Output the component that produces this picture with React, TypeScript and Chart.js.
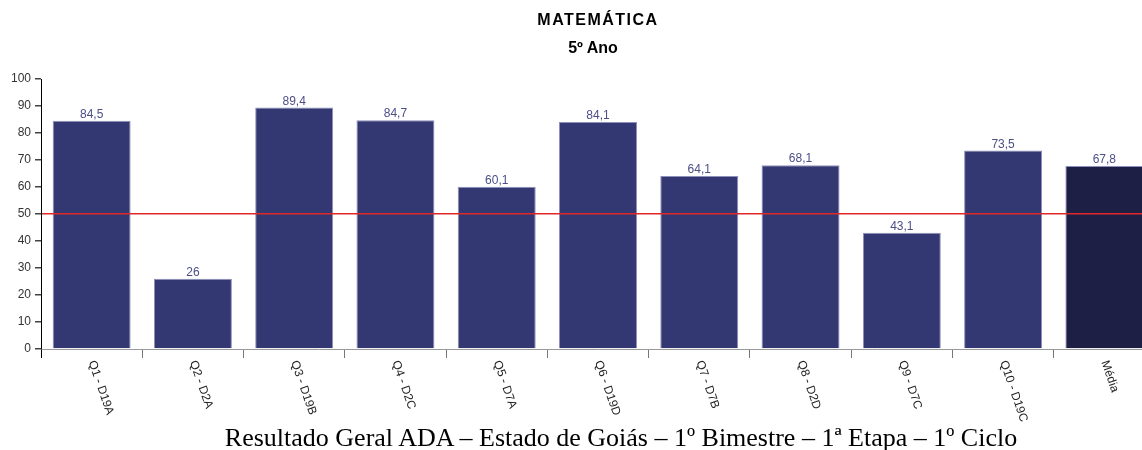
import React, { useEffect, useRef } from "react";
import { Chart, registerables } from "chart.js";

Chart.register(...registerables);

const categories = [
  "Q1 - D19A", "Q2 - D2A", "Q3 - D19B", "Q4 - D2C", "Q5 - D7A", "Q6 - D19D",
  "Q7 - D7B", "Q8 - D2D", "Q9 - D7C", "Q10 - D19C", "Média",
];
const values = [84.5, 26, 89.4, 84.7, 60.1, 84.1, 64.1, 68.1, 43.1, 73.5, 67.8];
const barColors = [
  "#333873", "#333873", "#333873", "#333873", "#333873", "#333873",
  "#333873", "#333873", "#333873", "#333873", "#1e1f45",
];
const yTicks = [0, 10, 20, 30, 40, 50, 60, 70, 80, 90, 100];
const referenceValue = 50;
const titleLine1 = "MATEMÁTICA";
const titleLine2 = "5º Ano";
const caption = "Resultado Geral ADA – Estado de Goiás – 1º Bimestre – 1ª Etapa – 1º Ciclo";

const fmt = (v: number) => String(v).replace(".", ",");

const valueLabelPlugin = {
  id: "valueLabels",
  afterDatasetsDraw(chart: any) {
    const ctx = chart.ctx;
    const meta = chart.getDatasetMeta(0);
    ctx.save();
    ctx.font = "12px Arial, 'Liberation Sans', sans-serif";
    ctx.fillStyle = "#4b4f86";
    ctx.textAlign = "center";
    ctx.textBaseline = "alphabetic";
    meta.data.forEach((bar: any, i: number) => {
      ctx.fillText(fmt(values[i]), bar.x, bar.y - 3);
    });
    ctx.restore();
  },
};

const xLabelPlugin = {
  id: "xLabels",
  afterDraw(chart: any) {
    const ctx = chart.ctx;
    const xs = chart.scales.x;
    ctx.save();
    ctx.font = "12px Arial, 'Liberation Sans', sans-serif";
    ctx.fillStyle = "#222";
    ctx.textAlign = "left";
    ctx.textBaseline = "middle";
    categories.forEach((c, i) => {
      const x = xs.getPixelForValue(i);
      const y = xs.top + 12;
      ctx.save();
      ctx.translate(x, y);
      ctx.rotate((71 * Math.PI) / 180);
      ctx.fillText(c, 0, 0);
      ctx.restore();
    });
    ctx.restore();
  },
};

export default function App() {
  const ref = useRef<HTMLCanvasElement | null>(null);
  useEffect(() => {
    if (!ref.current) return;
    const chart = new Chart(ref.current, {
      type: "bar",
      data: {
        labels: categories,
        datasets: [
          {
            data: values,
            backgroundColor: barColors,
            borderColor: "#8e90bb",
            borderWidth: 1,
            categoryPercentage: 0.77,
            barPercentage: 1,
          },
        ],
      },
      options: {
        animation: false,
        responsive: true,
        maintainAspectRatio: false,
        layout: { padding: { top: 79, bottom: 92, left: 0, right: 5 } },
        plugins: {
          legend: { display: false },
          title: { display: false },
          tooltip: { enabled: false },
        },
        scales: {
          x: {
            grid: {
              display: true,
              drawOnChartArea: false,
              drawTicks: true,
              tickLength: 9,
              tickColor: (c: any) => (c.index === 0 ? "#000" : "#777"),
              offset: true,
            },
            border: { display: true, color: "#999", width: 1 },
            ticks: { display: false },
          },
          y: {
            min: 0,
            max: 100,
            afterFit: (s: any) => {
              s.width = 41;
            },
            afterBuildTicks: (s: any) => {
              s.ticks = yTicks.map((v) => ({ value: v }));
            },
            grid: {
              z: 1,
              color: (c: any) =>
                c.tick && c.tick.value === referenceValue ? "#e02828" : "rgba(0,0,0,0)",
              lineWidth: 1.5,
              drawTicks: true,
              tickLength: 6,
              tickColor: "#444",
            },
            border: { display: true, color: "#000", width: 1, z: 2 },
            ticks: {
              padding: 4,
              color: "#333",
              font: { family: "Arial, 'Liberation Sans', sans-serif", size: 12 },
            },
          },
        },
      },
      plugins: [valueLabelPlugin, xLabelPlugin],
    });
    return () => chart.destroy();
  }, []);

  return (
    <div
      style={{
        position: "absolute",
        left: 0,
        top: 0,
        width: 1142,
        height: 450,
        overflow: "hidden",
        background: "#fff",
      }}
    >
      <div style={{ position: "absolute", left: 0, top: 0, width: 1160, height: 450 }}>
        <canvas ref={ref} />
      </div>
      <div
        style={{
          position: "absolute",
          left: 598,
          top: 12,
          transform: "translateX(-50%)",
          font: "bold 16px Arial, 'Liberation Sans', sans-serif",
          lineHeight: "16px",
          letterSpacing: "1.5px",
          whiteSpace: "nowrap",
          color: "#000",
        }}
      >
        {titleLine1}
      </div>
      <div
        style={{
          position: "absolute",
          left: 593,
          top: 40,
          transform: "translateX(-50%)",
          font: "bold 16px Arial, 'Liberation Sans', sans-serif",
          lineHeight: "16px",
          whiteSpace: "nowrap",
          color: "#000",
        }}
      >
        {titleLine2}
      </div>
      <div
        style={{
          position: "absolute",
          left: 621,
          top: 425,
          transform: "translateX(-50%)",
          font: "26px 'Liberation Serif', 'Times New Roman', serif",
          lineHeight: "26px",
          whiteSpace: "nowrap",
          color: "#000",
        }}
      >
        {caption}
      </div>
    </div>
  );
}
